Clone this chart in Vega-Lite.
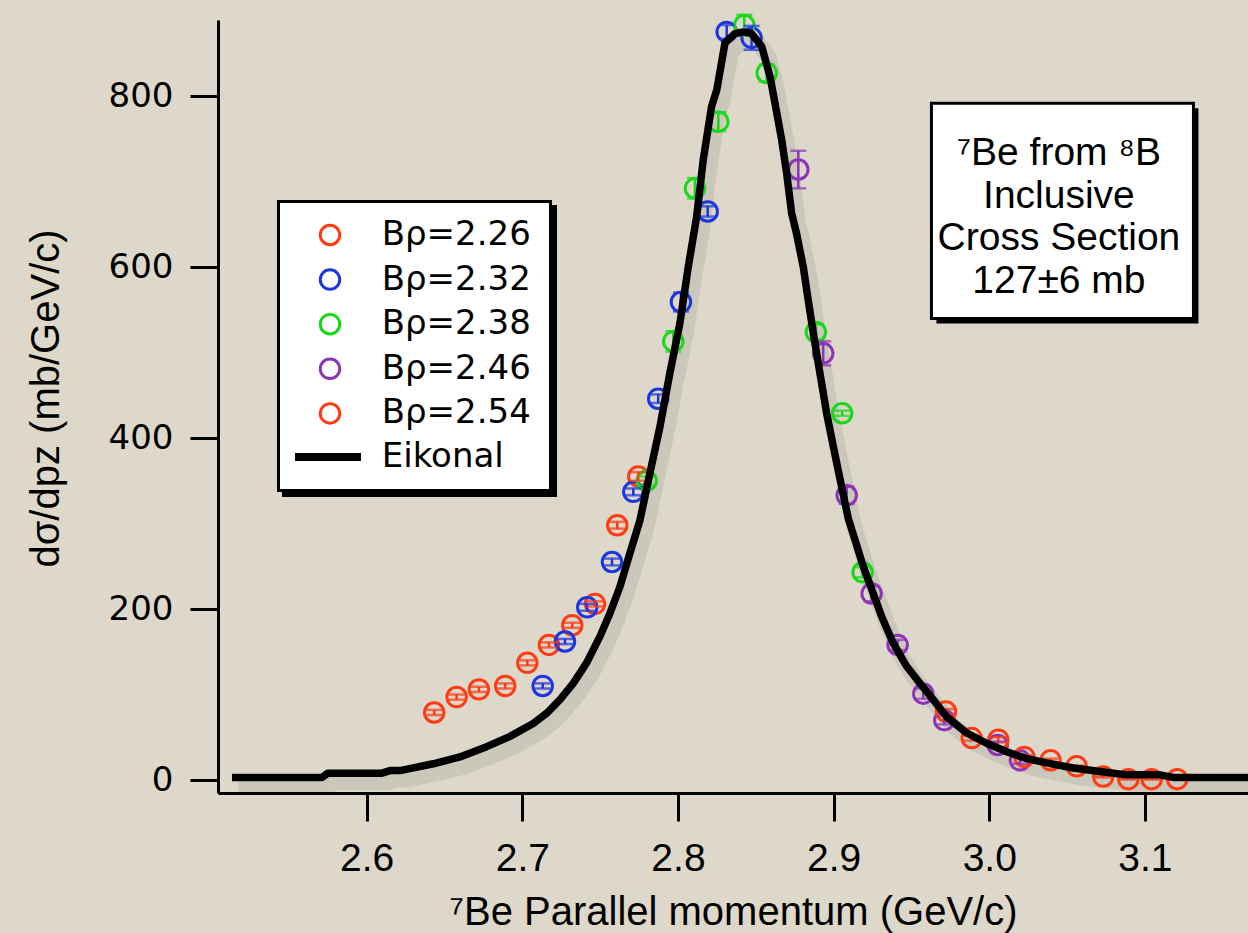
{
  "$schema": "https://vega.github.io/schema/vega-lite/v6.json",
  "width": 1030,
  "height": 773,
  "autosize": {"type": "none"},
  "padding": {"left": 218, "top": 20, "right": 0, "bottom": 140},
  "background": "#ddd8ca",
  "config": {
    "view": {"stroke": null},
    "axis": {
      "domainColor": "black", "domainWidth": 3, "tickColor": "black", "tickWidth": 3, "tickSize": 28,
      "labelColor": "black", "titleColor": "black", "grid": false, "titleFontWeight": "normal"
    },
    "legend": {
      "orient": "none", "padding": 0,
      "labelFont": "DejaVu Sans", "labelFontSize": 34, "labelColor": "black", "labelLimit": 400,
      "clipHeight": 34
    }
  },
  "resolve": {"legend": {"color": "independent"}},
  "datasets": {
    "pts": [
      {"series": "Bρ=2.26", "p": 2.6434, "s": 79, "lo": 76, "hi": 82},
      {"series": "Bρ=2.26", "p": 2.6578, "s": 97, "lo": 94, "hi": 100},
      {"series": "Bρ=2.26", "p": 2.6721, "s": 106, "lo": 103, "hi": 109},
      {"series": "Bρ=2.26", "p": 2.6890, "s": 110, "lo": 107, "hi": 113},
      {"series": "Bρ=2.26", "p": 2.7032, "s": 137, "lo": 134, "hi": 140},
      {"series": "Bρ=2.26", "p": 2.7171, "s": 158, "lo": 155, "hi": 161},
      {"series": "Bρ=2.26", "p": 2.7321, "s": 181, "lo": 178, "hi": 184},
      {"series": "Bρ=2.26", "p": 2.7467, "s": 206, "lo": 203, "hi": 209},
      {"series": "Bρ=2.26", "p": 2.7610, "s": 298, "lo": 294, "hi": 302},
      {"series": "Bρ=2.26", "p": 2.7745, "s": 355, "lo": 350, "hi": 360},
      {"series": "Bρ=2.32", "p": 2.7131, "s": 110, "lo": 107, "hi": 113},
      {"series": "Bρ=2.32", "p": 2.7274, "s": 162, "lo": 159, "hi": 165},
      {"series": "Bρ=2.32", "p": 2.7417, "s": 202, "lo": 198, "hi": 206},
      {"series": "Bρ=2.32", "p": 2.7576, "s": 255, "lo": 251, "hi": 259},
      {"series": "Bρ=2.32", "p": 2.7713, "s": 337, "lo": 333, "hi": 341},
      {"series": "Bρ=2.32", "p": 2.7873, "s": 446, "lo": 441, "hi": 451},
      {"series": "Bρ=2.32", "p": 2.8019, "s": 559, "lo": 548, "hi": 570},
      {"series": "Bρ=2.32", "p": 2.8191, "s": 665, "lo": 659, "hi": 671},
      {"series": "Bρ=2.32", "p": 2.8313, "s": 875, "lo": 867, "hi": 883},
      {"series": "Bρ=2.32", "p": 2.8473, "s": 868, "lo": 854, "hi": 882},
      {"series": "Bρ=2.38", "p": 2.7799, "s": 350, "lo": 345, "hi": 355},
      {"series": "Bρ=2.38", "p": 2.7970, "s": 513, "lo": 501, "hi": 525},
      {"series": "Bρ=2.38", "p": 2.8109, "s": 692, "lo": 680, "hi": 704},
      {"series": "Bρ=2.38", "p": 2.8259, "s": 770, "lo": 759, "hi": 781},
      {"series": "Bρ=2.38", "p": 2.8426, "s": 883, "lo": 871, "hi": 895},
      {"series": "Bρ=2.38", "p": 2.8570, "s": 827, "lo": 817, "hi": 837},
      {"series": "Bρ=2.38", "p": 2.8886, "s": 524, "lo": 515, "hi": 533},
      {"series": "Bρ=2.38", "p": 2.9055, "s": 429, "lo": 426, "hi": 432},
      {"series": "Bρ=2.38", "p": 2.9186, "s": 243, "lo": 237, "hi": 249},
      {"series": "Bρ=2.46", "p": 2.8773, "s": 714, "lo": 692, "hi": 736},
      {"series": "Bρ=2.46", "p": 2.8933, "s": 499, "lo": 485, "hi": 513},
      {"series": "Bρ=2.46", "p": 2.9084, "s": 333, "lo": 323, "hi": 343},
      {"series": "Bρ=2.46", "p": 2.9244, "s": 218, "lo": 209, "hi": 227},
      {"series": "Bρ=2.46", "p": 2.9411, "s": 158, "lo": 152, "hi": 164},
      {"series": "Bρ=2.46", "p": 2.9576, "s": 101, "lo": 95, "hi": 107},
      {"series": "Bρ=2.46", "p": 2.9711, "s": 70, "lo": 65, "hi": 75},
      {"series": "Bρ=2.46", "p": 3.0054, "s": 41, "lo": 37, "hi": 45},
      {"series": "Bρ=2.46", "p": 3.0197, "s": 23, "lo": 19, "hi": 27},
      {"series": "Bρ=2.54", "p": 2.9722, "s": 80, "lo": 77, "hi": 83},
      {"series": "Bρ=2.54", "p": 2.9887, "s": 49, "lo": 46, "hi": 52},
      {"series": "Bρ=2.54", "p": 3.0058, "s": 47, "lo": 44, "hi": 50},
      {"series": "Bρ=2.54", "p": 3.0225, "s": 27, "lo": 25, "hi": 29},
      {"series": "Bρ=2.54", "p": 3.0394, "s": 23, "lo": 21, "hi": 25},
      {"series": "Bρ=2.54", "p": 3.0561, "s": 16, "lo": 15, "hi": 17},
      {"series": "Bρ=2.54", "p": 3.0732, "s": 4, "lo": 3, "hi": 5},
      {"series": "Bρ=2.54", "p": 3.0893, "s": 1, "lo": 0.5, "hi": 1.5},
      {"series": "Bρ=2.54", "p": 3.1043, "s": 1, "lo": 0.5, "hi": 1.5},
      {"series": "Bρ=2.54", "p": 3.1207, "s": 1, "lo": 0.5, "hi": 1.5}
    ],
    "eik": [
      {"series": "Eikonal", "p": 2.5135, "s": 3},
      {"series": "Eikonal", "p": 2.5713, "s": 3},
      {"series": "Eikonal", "p": 2.5751, "s": 8},
      {"series": "Eikonal", "p": 2.6098, "s": 8},
      {"series": "Eikonal", "p": 2.6150, "s": 11},
      {"series": "Eikonal", "p": 2.6214, "s": 11},
      {"series": "Eikonal", "p": 2.6428, "s": 19},
      {"series": "Eikonal", "p": 2.6599, "s": 27},
      {"series": "Eikonal", "p": 2.6771, "s": 39},
      {"series": "Eikonal", "p": 2.6921, "s": 51},
      {"series": "Eikonal", "p": 2.7070, "s": 66},
      {"series": "Eikonal", "p": 2.7156, "s": 78},
      {"series": "Eikonal", "p": 2.7242, "s": 94},
      {"series": "Eikonal", "p": 2.7327, "s": 113},
      {"series": "Eikonal", "p": 2.7413, "s": 137},
      {"series": "Eikonal", "p": 2.7499, "s": 168},
      {"series": "Eikonal", "p": 2.7563, "s": 195},
      {"series": "Eikonal", "p": 2.7627, "s": 226},
      {"series": "Eikonal", "p": 2.7691, "s": 265},
      {"series": "Eikonal", "p": 2.7756, "s": 304},
      {"series": "Eikonal", "p": 2.7820, "s": 359},
      {"series": "Eikonal", "p": 2.7884, "s": 413},
      {"series": "Eikonal", "p": 2.7948, "s": 476},
      {"series": "Eikonal", "p": 2.8012, "s": 534},
      {"series": "Eikonal", "p": 2.8066, "s": 600},
      {"series": "Eikonal", "p": 2.8120, "s": 659},
      {"series": "Eikonal", "p": 2.8162, "s": 725},
      {"series": "Eikonal", "p": 2.8216, "s": 788},
      {"series": "Eikonal", "p": 2.8249, "s": 807},
      {"series": "Eikonal", "p": 2.8302, "s": 862},
      {"series": "Eikonal", "p": 2.8366, "s": 873},
      {"series": "Eikonal", "p": 2.8419, "s": 875},
      {"series": "Eikonal", "p": 2.8473, "s": 873},
      {"series": "Eikonal", "p": 2.8538, "s": 858},
      {"series": "Eikonal", "p": 2.8591, "s": 823},
      {"series": "Eikonal", "p": 2.8623, "s": 792},
      {"series": "Eikonal", "p": 2.8666, "s": 749},
      {"series": "Eikonal", "p": 2.8698, "s": 710},
      {"series": "Eikonal", "p": 2.8730, "s": 663},
      {"series": "Eikonal", "p": 2.8762, "s": 639},
      {"series": "Eikonal", "p": 2.8805, "s": 600},
      {"series": "Eikonal", "p": 2.8837, "s": 561},
      {"series": "Eikonal", "p": 2.8869, "s": 523},
      {"series": "Eikonal", "p": 2.8912, "s": 476},
      {"series": "Eikonal", "p": 2.8955, "s": 429},
      {"series": "Eikonal", "p": 2.8998, "s": 390},
      {"series": "Eikonal", "p": 2.9041, "s": 352},
      {"series": "Eikonal", "p": 2.9094, "s": 306},
      {"series": "Eikonal", "p": 2.9137, "s": 281},
      {"series": "Eikonal", "p": 2.9190, "s": 250},
      {"series": "Eikonal", "p": 2.9255, "s": 218},
      {"series": "Eikonal", "p": 2.9309, "s": 191},
      {"series": "Eikonal", "p": 2.9383, "s": 160},
      {"series": "Eikonal", "p": 2.9469, "s": 133},
      {"series": "Eikonal", "p": 2.9555, "s": 113},
      {"series": "Eikonal", "p": 2.9640, "s": 94},
      {"series": "Eikonal", "p": 2.9726, "s": 74},
      {"series": "Eikonal", "p": 2.9855, "s": 55},
      {"series": "Eikonal", "p": 2.9983, "s": 43},
      {"series": "Eikonal", "p": 3.0112, "s": 33},
      {"series": "Eikonal", "p": 3.0240, "s": 25},
      {"series": "Eikonal", "p": 3.0368, "s": 20},
      {"series": "Eikonal", "p": 3.0539, "s": 14},
      {"series": "Eikonal", "p": 3.0711, "s": 10},
      {"series": "Eikonal", "p": 3.0882, "s": 6},
      {"series": "Eikonal", "p": 3.1096, "s": 6},
      {"series": "Eikonal", "p": 3.1182, "s": 3},
      {"series": "Eikonal", "p": 3.1662, "s": 3}
    ]
  },
  "layer": [
    {
      "data": {"values": [{}]},
      "mark": {"type": "rect", "fill": "black"},
      "encoding": {
        "x": {"datum": 2.54562}, "x2": {"datum": 2.72228},
        "y": {"datum": 672.52}, "y2": {"datum": 330.99}
      }
    },
    {
      "data": {"values": [{}]},
      "mark": {"type": "rect", "fill": "black"},
      "encoding": {
        "x": {"datum": 2.54240}, "x2": {"datum": 2.71907},
        "y": {"datum": 678.37}, "y2": {"datum": 336.85}
      }
    },
    {
      "data": {"values": [{}]},
      "mark": {"type": "rect", "fill": "white"},
      "encoding": {
        "x": {"datum": 2.54433}, "x2": {"datum": 2.71714},
        "y": {"datum": 674.86}, "y2": {"datum": 340.36}
      }
    },
    {
      "data": {"name": "eik"},
      "mark": {"type": "line", "strokeWidth": 16, "clip": true, "strokeJoin": "round", "color": "#000000", "opacity": 0.08, "xOffset": 6, "yOffset": 9},
      "encoding": {
        "x": {"field": "p", "type": "quantitative", "title": "⁷Be Parallel momentum (GeV/c)"},
        "y": {"field": "s", "type": "quantitative", "title": "dσ/dpz (mb/GeV/c)"},
        "order": {"field": "p", "type": "quantitative"}
      }
    },
    {
      "data": {"name": "pts"},
      "mark": {"type": "point", "filled": false, "size": 380, "strokeWidth": 3, "opacity": 1},
      "encoding": {
        "x": {
          "field": "p", "type": "quantitative",
          "scale": {"domain": [2.5045, 3.1662], "nice": false, "zero": false},
          "axis": {
            "values": [2.6, 2.7, 2.8, 2.9, 3.0, 3.1], "format": ".1f",
            "labelFont": "Liberation Sans", "labelFontSize": 39, "labelPadding": 18,
            "title": "⁷Be Parallel momentum (GeV/c)", "titleFont": "Liberation Sans", "titleFontSize": 40,
            "titleBaseline": "alphabetic", "titleY": 131
          }
        },
        "y": {
          "field": "s", "type": "quantitative",
          "scale": {"domain": [-15.2, 888.9], "nice": false, "zero": false},
          "axis": {
            "values": [0, 200, 400, 600, 800], "format": "d",
            "labelFont": "DejaVu Sans", "labelFontSize": 34, "labelPadding": 17,
            "title": "dσ/dpz (mb/GeV/c)", "titleFont": "Liberation Sans", "titleFontSize": 40,
            "titleX": -172, "titleY": 378, "titleBaseline": "middle", "titleAlign": "center", "titleAngle": -90
          }
        },
        "color": {
          "field": "series", "type": "nominal",
          "scale": {
            "domain": ["Bρ=2.26", "Bρ=2.32", "Bρ=2.38", "Bρ=2.46", "Bρ=2.54", "Eikonal"],
            "range": ["#ff3b14", "#1b35e0", "#19d719", "#8c34b8", "#ff3b14", "#000000"]
          },
          "legend": {
            "title": null,
            "values": ["Bρ=2.26", "Bρ=2.32", "Bρ=2.38", "Bρ=2.46", "Bρ=2.54"],
            "legendX": 95, "legendY": 198,
            "symbolType": "circle", "symbolSize": 380, "symbolStrokeWidth": 3,
            "symbolOffset": 0, "labelOffset": 34.7, "rowPadding": 10.6
          }
        }
      }
    },
    {
      "data": {"name": "pts"},
      "mark": {"type": "rule", "strokeWidth": 2.5},
      "encoding": {
        "x": {"field": "p", "type": "quantitative"},
        "y": {"field": "lo", "type": "quantitative"},
        "y2": {"field": "hi"},
        "color": {"field": "series", "type": "nominal", "legend": null}
      }
    },
    {
      "data": {"name": "pts"},
      "mark": {"type": "tick", "orient": "horizontal", "size": 16, "thickness": 2.5},
      "encoding": {
        "x": {"field": "p", "type": "quantitative"},
        "y": {"field": "lo", "type": "quantitative"},
        "color": {"field": "series", "type": "nominal", "legend": null}
      }
    },
    {
      "data": {"name": "pts"},
      "mark": {"type": "tick", "orient": "horizontal", "size": 16, "thickness": 2.5},
      "encoding": {
        "x": {"field": "p", "type": "quantitative"},
        "y": {"field": "hi", "type": "quantitative"},
        "color": {"field": "series", "type": "nominal", "legend": null}
      }
    },
    {
      "data": {"name": "eik"},
      "mark": {"type": "line", "strokeWidth": 7.5, "clip": true, "strokeJoin": "round"},
      "encoding": {
        "x": {"field": "p", "type": "quantitative"},
        "y": {"field": "s", "type": "quantitative"},
        "color": {
          "field": "series", "type": "nominal",
          "legend": {
            "title": null,
            "values": ["Eikonal"],
            "legendX": 73, "legendY": 420,
            "symbolType": "stroke", "symbolSize": 4356, "symbolStrokeWidth": 8,
            "symbolOffset": 0, "labelOffset": 16.7
          }
        },
        "order": {"field": "p", "type": "quantitative"}
      }
    },
    {
      "data": {"values": [{}]},
      "mark": {"type": "rect", "fill": "black"},
      "encoding": {
        "x": {"datum": 2.96605}, "x2": {"datum": 3.13437},
        "y": {"datum": 785.7}, "y2": {"datum": 533.9}
      }
    },
    {
      "data": {"values": [{}]},
      "mark": {"type": "rect", "fill": "white", "stroke": "black", "strokeWidth": 3},
      "encoding": {
        "x": {"datum": 2.96284}, "x2": {"datum": 3.13116},
        "y": {"datum": 791.6}, "y2": {"datum": 539.8}
      }
    },
    {
      "data": {"values": [{}]},
      "mark": {
        "type": "text", "font": "Liberation Sans", "fontSize": 39, "color": "black",
        "align": "center", "baseline": "alphabetic", "lineHeight": 42.5,
        "text": ["⁷Be from ⁸B", "Inclusive", "Cross Section", "127±6 mb"]
      },
      "encoding": {
        "x": {"datum": 3.04473},
        "y": {"datum": 719.3}
      }
    }
  ]
}
